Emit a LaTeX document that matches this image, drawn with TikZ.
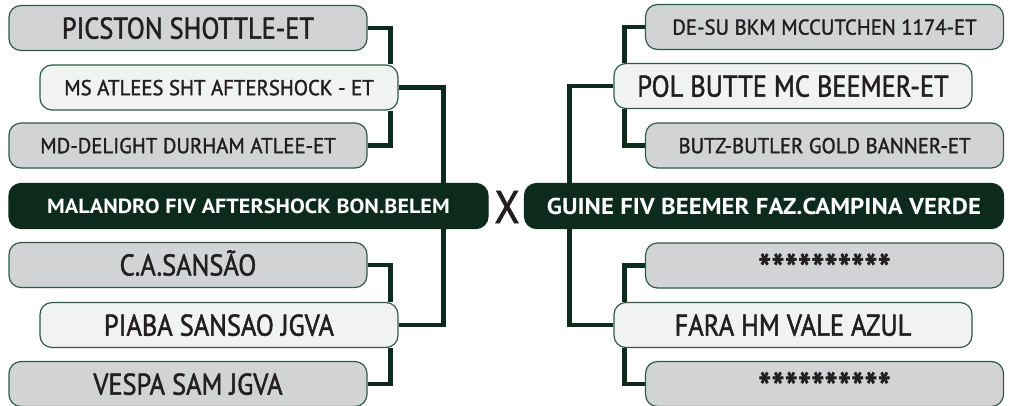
\documentclass[tikz,border=0pt]{standalone}
\usepackage{fontspec}
\setmainfont{PT Sans}
\newfontfamily\namefont[FakeStretch=0.88, FakeBold=1.5]{PT Sans}
\newfontfamily\smallnamefont[FakeStretch=0.965, FakeBold=1.5]{PT Sans}
\newfontfamily\sirefont[FakeStretch=1.08]{PT Sans}
\usetikzlibrary{backgrounds}

\definecolor{darkgreen}{HTML}{0D2B1C}
\definecolor{boxline}{HTML}{2F5A45}
\definecolor{grayfill}{HTML}{D1D3D4}
\definecolor{lightfill}{HTML}{F1F2F2}
\definecolor{inkgray}{HTML}{231F20}

\tikzset{
	base/.style = {draw=boxline, line width=1.2pt, rounded corners=12pt, minimum height=45pt, inner sep=0pt, text depth=0pt, text=inkgray},
	outer/.style = {base, fill=grayfill, minimum width=358pt},
	inner/.style = {base, fill=lightfill, minimum width=358pt},
	sire/.style = {base, fill=darkgreen, draw=darkgreen, text=white, minimum width=479pt},
	big/.style = {font=\namefont\fontsize{30}{30}\selectfont},
	small/.style = {font=\smallnamefont\fontsize{21.5}{21.5}\selectfont},
	stars/.style = {font=\namefont\fontsize{43}{43}\selectfont},
	link/.style = {draw=darkgreen, line width=4.5pt}
}

\begin{document}
\begin{tikzpicture}[x=1pt, y=-1pt]
	\useasboundingbox (0,0) rectangle (1011,405);
	% left side
	\node[outer, big] (picston) at (188,28) {PICSTON SHOTTLE-ET};
	\node[inner, small] (ms) at (219,87.5) {MS ATLEES SHT AFTERSHOCK - ET};
	\node[outer, small] (md) at (188,145.5) {MD-DELIGHT DURHAM ATLEE-ET};
	\node[sire, font=\sirefont\bfseries\fontsize{20.5}{20.5}\selectfont] (malandro) at (248.5,206) {MALANDRO FIV AFTERSHOCK BON.BELEM};
	\node[outer, big, text height=21pt] (sansao) at (188,265) {C.A.SANSÃO};
	\node[inner, big] (piaba) at (219,325) {PIABA SANSAO JGVA};
	\node[outer, big] (vespa) at (188,384) {VESPA SAM JGVA};
	% right side
	\node[outer, small] (desu) at (824.5,27) {DE-SU BKM MCCUTCHEN 1174-ET};
	\node[inner, big] (pol) at (793,86) {POL BUTTE MC BEEMER-ET};
	\node[outer, small] (butz) at (824.5,145.5) {BUTZ-BUTLER GOLD BANNER-ET};
	\node[sire, font=\sirefont\bfseries\fontsize{23}{23}\selectfont] (guine) at (764,206) {GUINE FIV BEEMER FAZ.CAMPINA VERDE};
	\node[outer, stars] (star1) at (824.5,265.5) {\raisebox{-7pt}{**********}};
	\node[inner, big] (fara) at (793,325) {FARA HM VALE AZUL};
	\node[outer, stars] (star2) at (824.5,384) {\raisebox{-7pt}{**********}};
	% cross
	\node[text=inkgray, font=\namefont\fontsize{46}{46}\selectfont] (x) at (507,207) {X};
	\begin{scope}[on background layer]
		\draw[link] (picston.east) -| ([xshift=-8pt]ms.north east);
		\draw[link] (md.east) -| ([xshift=-8pt]ms.south east);
		\draw[link] (sansao.east) -| ([xshift=-8pt]piaba.north east);
		\draw[link] (vespa.east) -| ([xshift=-8pt]piaba.south east);
		\draw[link] (ms.east) -- ++(45,0) |- (piaba.east);
		\draw[link] (desu.west) -| ([xshift=11pt]pol.north west);
		\draw[link] (butz.west) -| ([xshift=11pt]pol.south west);
		\draw[link] (star1.west) -| ([xshift=11pt]fara.north west);
		\draw[link] (star2.west) -| ([xshift=11pt]fara.south west);
		\draw[link] (pol.west) -- ++(-44,0) |- (fara.west);
	\end{scope}
\end{tikzpicture}
\end{document}
